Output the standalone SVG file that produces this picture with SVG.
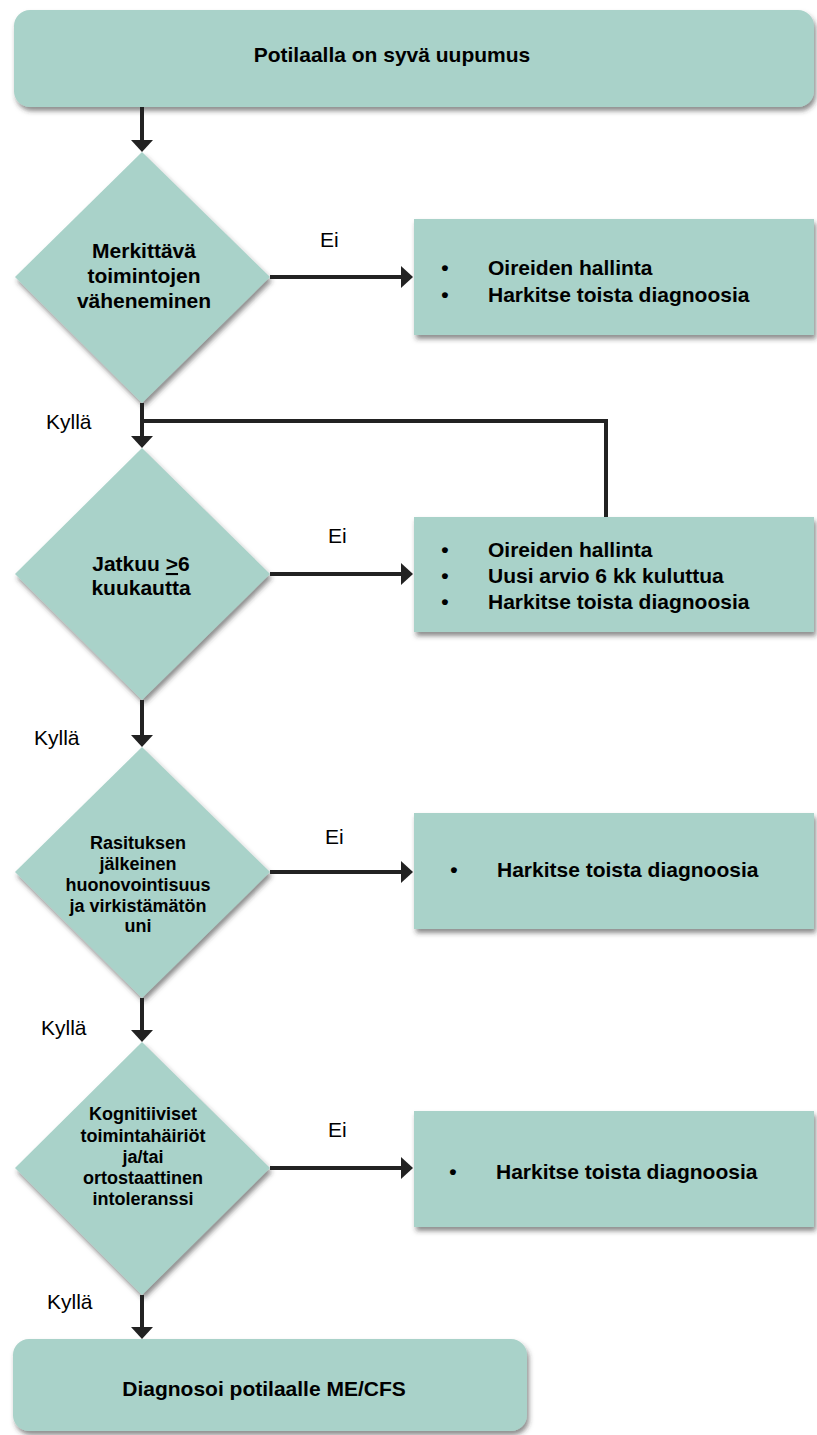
<svg xmlns="http://www.w3.org/2000/svg" width="817" height="1435" viewBox="0 0 817 1435">
<defs>
<filter id="sh" x="-5%" y="-5%" width="112%" height="120%">
<feDropShadow dx="2" dy="4" stdDeviation="2.5" flood-color="#333" flood-opacity="0.55"/>
</filter>
<marker id="ah" markerUnits="userSpaceOnUse" markerWidth="12" markerHeight="22" refX="2" refY="11" orient="auto">
<path d="M0,0 L12,11 L0,22 z" fill="#222"/>
</marker>
<style>
.n{fill:#A9D2C9;filter:url(#sh)}
.b{font-family:"Liberation Sans",Arial,sans-serif;font-weight:bold;font-size:21px;fill:#000}
.s{font-family:"Liberation Sans",Arial,sans-serif;font-weight:bold;font-size:18px;fill:#000}
.l{font-family:"Liberation Sans",Arial,sans-serif;font-size:21px;fill:#000}
.c{fill:none;stroke:#222;stroke-width:4}
</style>
</defs>
<rect width="817" height="1435" fill="#fff"/>

<g id="start">
<rect class="n" x="14" y="10" width="800" height="97" rx="16"/>
<text class="b" x="392" y="62" text-anchor="middle">Potilaalla on syvä uupumus</text>
</g>

<g id="d1">
<polygon class="n" points="142,152 270,277 142,403 15,277"/>
<text class="b" text-anchor="middle"><tspan x="144" y="258">Merkittävä</tspan><tspan x="144" y="283">toimintojen</tspan><tspan x="144" y="308">väheneminen</tspan></text>
</g>

<g id="r1">
<rect class="n" x="414" y="219" width="400" height="116"/>
<text class="b" x="445" y="275" text-anchor="middle">•</text>
<text class="b" x="488" y="275">Oireiden hallinta</text>
<text class="b" x="445" y="302" text-anchor="middle">•</text>
<text class="b" x="488" y="302">Harkitse toista diagnoosia</text>
</g>

<g id="d2">
<polygon class="n" points="142,448 270,574 142,700 15,574"/>
<text class="b" text-anchor="middle"><tspan x="141" y="571">Jatkuu <tspan text-decoration="underline">&gt;</tspan>6</tspan><tspan x="141" y="595">kuukautta</tspan></text>
</g>

<g id="r2">
<rect class="n" x="414" y="517" width="400" height="115"/>
<text class="b" x="445" y="557" text-anchor="middle">•</text>
<text class="b" x="488" y="557">Oireiden hallinta</text>
<text class="b" x="445" y="583" text-anchor="middle">•</text>
<text class="b" x="488" y="583">Uusi arvio 6 kk kuluttua</text>
<text class="b" x="445" y="609" text-anchor="middle">•</text>
<text class="b" x="488" y="609">Harkitse toista diagnoosia</text>
</g>

<g id="d3">
<polygon class="n" points="142,747 270,872 142,998 15,872"/>
<text class="s" text-anchor="middle"><tspan x="138" y="849">Rasituksen</tspan><tspan x="138" y="870">jälkeinen</tspan><tspan x="138" y="891">huonovointisuus</tspan><tspan x="138" y="912">ja virkistämätön</tspan><tspan x="138" y="932">uni</tspan></text>
</g>

<g id="r3">
<rect class="n" x="414" y="813" width="400" height="116"/>
<text class="b" x="454" y="877" text-anchor="middle">•</text>
<text class="b" x="497" y="877">Harkitse toista diagnoosia</text>
</g>

<g id="d4">
<polygon class="n" points="142,1042 270,1168 142,1295 15,1168"/>
<text class="s" text-anchor="middle"><tspan x="143" y="1120">Kognitiiviset</tspan><tspan x="143" y="1142">toimintahäiriöt</tspan><tspan x="143" y="1163">ja/tai</tspan><tspan x="143" y="1184">ortostaattinen</tspan><tspan x="143" y="1205">intoleranssi</tspan></text>
</g>

<g id="r4">
<rect class="n" x="414" y="1111" width="400" height="116"/>
<text class="b" x="453" y="1179" text-anchor="middle">•</text>
<text class="b" x="496" y="1179">Harkitse toista diagnoosia</text>
</g>

<g id="end">
<rect class="n" x="13" y="1339" width="514" height="92" rx="16"/>
<text class="b" x="264" y="1396" text-anchor="middle">Diagnosoi potilaalle ME/CFS</text>
</g>

<g id="connectors">
<path class="c" d="M142,107 V142" marker-end="url(#ah)"/>
<path class="c" d="M270,277 H403" marker-end="url(#ah)"/>
<path class="c" d="M142,403 V438" marker-end="url(#ah)"/>
<path class="c" d="M606,517 V421 H142"/>
<path class="c" d="M270,574 H403" marker-end="url(#ah)"/>
<path class="c" d="M142,700 V737" marker-end="url(#ah)"/>
<path class="c" d="M270,872 H403" marker-end="url(#ah)"/>
<path class="c" d="M142,998 V1032" marker-end="url(#ah)"/>
<path class="c" d="M270,1168 H403" marker-end="url(#ah)"/>
<path class="c" d="M142,1295 V1329" marker-end="url(#ah)"/>
<text class="l" x="320" y="247">Ei</text>
<text class="l" x="328" y="543">Ei</text>
<text class="l" x="325" y="844">Ei</text>
<text class="l" x="328" y="1137">Ei</text>
<text class="l" x="46" y="429">Kyllä</text>
<text class="l" x="34" y="745">Kyllä</text>
<text class="l" x="41" y="1035">Kyllä</text>
<text class="l" x="47" y="1309">Kyllä</text>
</g>
</svg>
